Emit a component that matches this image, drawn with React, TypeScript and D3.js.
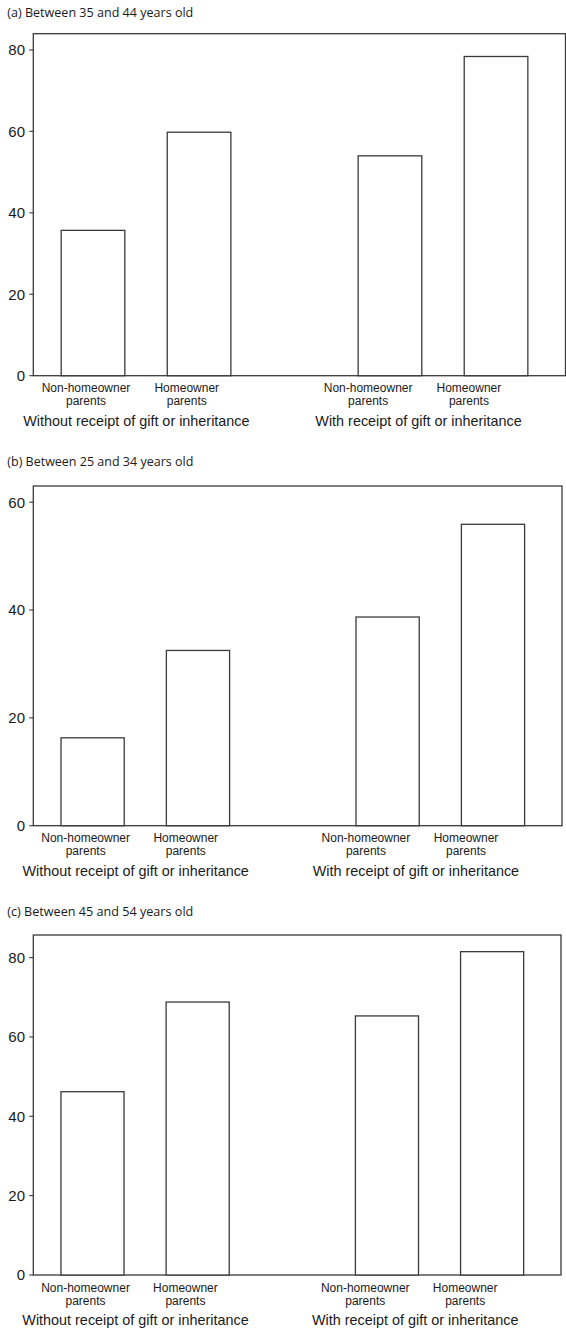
import React from "react";
import * as d3 from "d3";

const categories = ["Non-homeowner parents", "Homeowner parents"];
const groups = ["Without receipt of gift or inheritance", "With receipt of gift or inheritance"];

const titles = [
  "(a) Between 35 and 44 years old",
  "(b) Between 25 and 34 years old",
  "(c) Between 45 and 54 years old",
];

// values: [without-nonhome, without-home, with-nonhome, with-home]
const values35to44 = [35.7, 59.8, 54.0, 78.4];
const values25to34 = [16.3, 32.5, 38.7, 55.9];
const values45to54 = [46.2, 68.8, 65.3, 81.5];

const ticks35to44 = [0, 20, 40, 60, 80];
const ticks25to34 = [0, 20, 40, 60];
const ticks45to54 = [0, 20, 40, 60, 80];

const yMax35to44 = 84;
const yMax25to34 = 63;
const yMax45to54 = 85.7;

const panels = [
  { title: titles[0], values: values35to44, ticks: ticks35to44, yMax: yMax35to44, titleY: 17, top: 33.7, bottom: 375.7, right: 565.5 },
  { title: titles[1], values: values25to34, ticks: ticks25to34, yMax: yMax25to34, titleY: 466, top: 486, bottom: 825.7, right: 562 },
  { title: titles[2], values: values45to54, ticks: ticks45to54, yMax: yMax45to54, titleY: 916, top: 935, bottom: 1275, right: 561 },
];

const LEFT = 33.3;
const GROUP_STEP = 2.8;
const BAR_W = 0.6;
const X_DOMAIN: [number, number] = [-0.563, 4.455];
const STROKE = "#3a3a3a";
const TEXT = "#1a1a1a";
const AXIS_FONT = "'Liberation Sans', Arial, Helvetica, sans-serif";
const TITLE_FONT = "'Open Sans', 'Noto Sans', sans-serif";

function Panel({ p }: { p: typeof panels[number] }) {
  const x = d3.scaleLinear().domain(X_DOMAIN).range([LEFT, p.right]);
  const labelRight = 29.3 + 0.95 * (p.right - LEFT);
  const xl = d3.scaleLinear().domain(X_DOMAIN).range([29.3, labelRight]);
  const y = d3.scaleLinear().domain([0, p.yMax]).range([p.bottom, p.top]);

  const bars = p.values.map((v, i) => {
    const g = Math.floor(i / categories.length);
    const c = i % categories.length;
    return { v, pos: g * GROUP_STEP + c, c };
  });

  return (
    <g>
      <text
        x={7.3}
        y={p.titleY}
        fontFamily={TITLE_FONT}
        fontSize={12}
        fill={TEXT}
        textLength={186}
        lengthAdjust="spacingAndGlyphs"
      >
        {p.title}
      </text>
      {/* frame */}
      <rect
        x={LEFT}
        y={p.top}
        width={p.right - LEFT}
        height={p.bottom - p.top}
        fill="none"
        stroke={STROKE}
        strokeWidth={1.3}
      />
      {/* bars */}
      {bars.map((b, i) => (
        <rect
          key={i}
          x={x(b.pos - BAR_W / 2)}
          y={y(b.v)}
          width={x(b.pos + BAR_W / 2) - x(b.pos - BAR_W / 2)}
          height={y(0) - y(b.v)}
          fill="white"
          stroke={STROKE}
          strokeWidth={1.3}
        />
      ))}
      {/* y ticks */}
      {p.ticks.map((t) => (
        <g key={t}>
          <line x1={LEFT - 4} x2={LEFT} y1={y(t)} y2={y(t)} stroke={STROKE} strokeWidth={1.1} />
          <text
            x={25}
            y={y(t)}
            dy="0.36em"
            textAnchor="end"
            fontFamily={AXIS_FONT}
            fontSize={15}
            fill={TEXT}
          >
            {t}
          </text>
        </g>
      ))}
      {/* category labels */}
      {bars.map((b, i) => {
        const words = categories[b.c].split(" ");
        return (
          <text
            key={"c" + i}
            x={xl(b.pos)}
            textAnchor="middle"
            fontFamily={AXIS_FONT}
            fontSize={12}
            fill={TEXT}
          >
            <tspan x={xl(b.pos)} y={p.bottom + 16.5}>{words[0]}</tspan>
            <tspan x={xl(b.pos)} y={p.bottom + 29.5}>{words[1]}</tspan>
          </text>
        );
      })}
      {/* group labels */}
      {groups.map((g, gi) => (
        <text
          key={g}
          x={xl(gi * GROUP_STEP + (categories.length - 1) / 2)}
          y={p.bottom + 50}
          textAnchor="middle"
          fontFamily={AXIS_FONT}
          fontSize={14.4}
          fill={TEXT}
        >
          {g}
        </text>
      ))}
    </g>
  );
}

export default function App() {
  return (
    <svg
      width={566}
      height={1331}
      style={{ position: "absolute", left: 0, top: 0, background: "white" }}
    >
      <rect width={566} height={1331} fill="white" />
      {panels.map((p, i) => (
        <Panel key={i} p={p} />
      ))}
    </svg>
  );
}
